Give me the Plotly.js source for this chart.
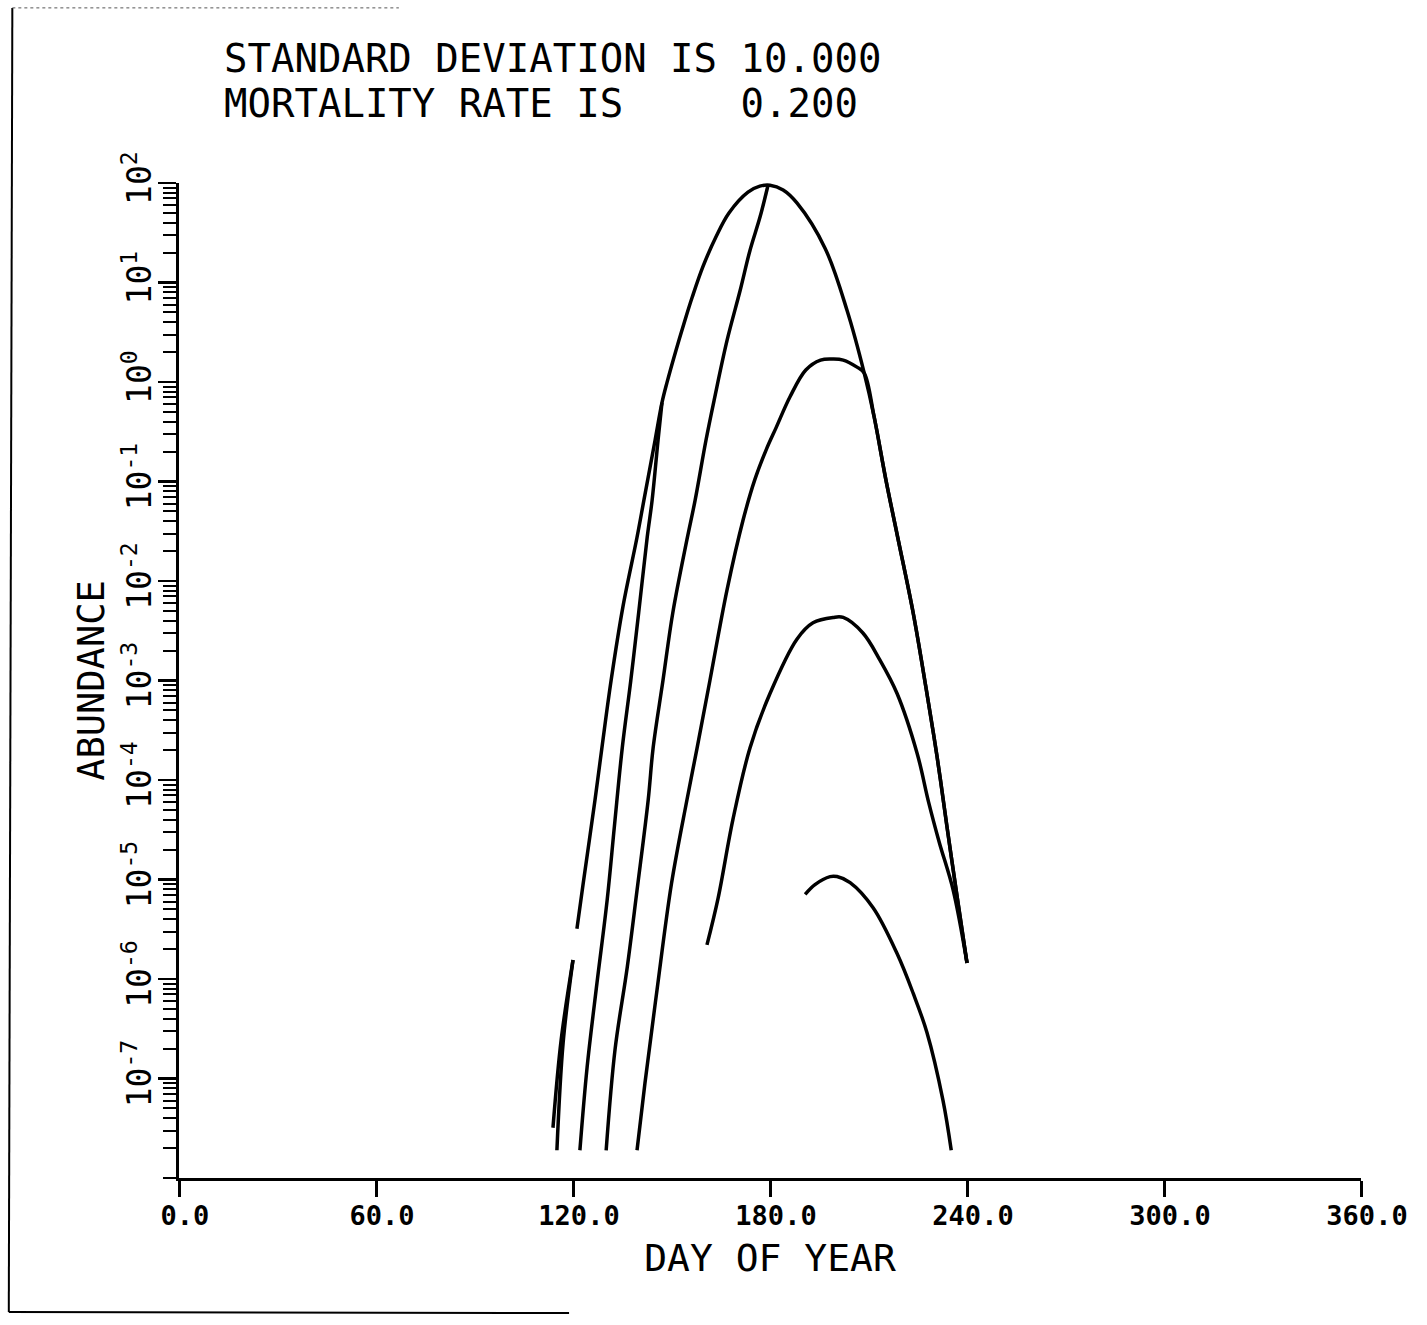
<!DOCTYPE html>
<html>
<head>
<meta charset="utf-8">
<script src="https://cdn.plot.ly/plotly-3.0.1.min.js"></script>
<style>
  html, body { margin: 0; padding: 0; background: #fff; }
  #chart { width: 1427px; height: 1325px; }
</style>
</head>
<body>
<div id="chart"></div>
<script>
// Cohort abundance curves (day of year vs abundance, log scale)

// Outer curve, peaking near day 180 (pen lift between day 120 and 121)
const dayA = [115.1, 117.0, 120.0, null, 121.2, 123.1, 126.7, 128.8, 131.6, 135.2, 139.5, 141.6, 145.0, 147.1, 148.6, 151.4, 154.4, 156.3, 159.6, 163.6, 167.5, 173.3, 176.9, 180.0, 184.0, 188.2, 196.8, 203.5, 208.7, 211.7, 215.3, 218.9, 223.6, 227.5, 230.9, 233.9, 236.7, 240.0];
const abundA = [1.9e-8, 2.3e-7, 1.55e-6, null, 3.2e-6, 9.1e-6, 6.3e-5, 2.1e-4, 1.0e-3, 5.5e-3, 2.75e-2, 6.5e-2, 0.26, 0.62, 0.98, 2.1, 4.5, 7.1, 14.5, 29, 50, 81, 93, 95, 85, 63, 22, 5.2, 1.23, 0.45, 0.104, 2.75e-2, 4.8e-3, 8.5e-4, 1.7e-4, 3.4e-5, 7.8e-6, 1.45e-6];

// Short overdrawn stroke at the start of the outer curve
const dayA2 = [113.9, 116.4, 120.0];
const abundA2 = [3.2e-8, 2.45e-7, 1.55e-6];

// Curve joining the outer curve near abundance 0.6
const dayB = [122.1, 124.3, 127.3, 130.4, 132.6, 135.0, 137.6, 140.0, 142.6, 144.1, 145.9, 147.1];
const abundB = [1.9e-8, 1.3e-7, 9.1e-7, 6.2e-6, 3.4e-5, 2.1e-4, 1.0e-3, 4.8e-3, 2.75e-2, 6.5e-2, 0.26, 0.62];

// Steep curve rising to the day-180 maximum
const dayC = [130.1, 132.8, 136.5, 139.5, 142.9, 144.4, 147.4, 150.4, 154.7, 157.2, 160.5, 163.0, 166.9, 170.9, 173.9, 177.0, 179.4];
const abundC = [1.9e-8, 1.95e-7, 1.3e-6, 7.8e-6, 6.3e-5, 2.1e-4, 1.0e-3, 4.8e-3, 2.6e-2, 6.5e-2, 0.26, 0.66, 2.6, 8.3, 21, 46, 95];

// Curve peaking near abundance 1.7 around day 200
const dayD = [139.5, 141.9, 145.6, 150.0, 154.7, 157.8, 161.7, 166.9, 171.8, 175.4, 178.8, 181.9, 186.1, 190.9, 195.4, 199.2, 202.3, 206.5, 208.7, 211.7, 215.3, 218.9, 223.6, 227.5, 230.9, 233.9, 236.7, 240.0];
const abundD = [1.9e-8, 8.9e-8, 7.8e-7, 9.1e-6, 6.3e-5, 2.1e-4, 1.0e-3, 8.1e-3, 4.1e-2, 0.105, 0.207, 0.35, 0.71, 1.32, 1.66, 1.7, 1.66, 1.41, 1.23, 0.45, 0.104, 2.75e-2, 4.8e-3, 8.5e-4, 1.7e-4, 3.4e-5, 7.8e-6, 1.45e-6];

// Curve peaking near 4e-3 around day 200
const dayE = [160.8, 164.2, 168.7, 173.9, 180.0, 188.2, 193.1, 199.2, 202.3, 208.3, 213.5, 218.7, 224.8, 228.3, 231.5, 235.8, 240.0];
const abundE = [2.2e-6, 6.5e-6, 4.0e-5, 2.1e-4, 7.4e-4, 2.6e-3, 3.8e-3, 4.3e-3, 4.3e-3, 3.0e-3, 1.6e-3, 7.4e-4, 1.86e-4, 6.0e-5, 2.4e-5, 7.8e-6, 1.45e-6];

// Small curve peaking near 1e-5 around day 200
const dayF = [190.7, 193.7, 198.3, 200.4, 204.4, 211.4, 218.7, 223.6, 227.8, 232.7, 235.2];
const abundF = [7.1e-6, 8.9e-6, 1.07e-5, 1.07e-5, 9.3e-6, 5.2e-6, 1.8e-6, 7.2e-7, 2.9e-7, 6.0e-8, 1.9e-8];

// Axis ticks
const yTickVals = [1e-7, 1e-6, 1e-5, 1e-4, 1e-3, 1e-2, 1e-1, 1e0, 1e1, 1e2];
const yTickText = ['10<sup>-7</sup>', '10<sup>-6</sup>', '10<sup>-5</sup>', '10<sup>-4</sup>', '10<sup>-3</sup>',
                   '10<sup>-2</sup>', '10<sup>-1</sup>', '10<sup>0</sup>', '10<sup>1</sup>', '10<sup>2</sup>'];
const xTickVals = [0, 60, 120, 180, 240, 300, 360];
const xTickText = ['0.0', '60.0', '120.0', '180.0', '240.0', '300.0', '360.0'];

const FONT = 'DejaVu Sans Mono, Liberation Mono, monospace';

function curve(x, y) {
  return {
    x: x, y: y, type: 'scatter', mode: 'lines',
    line: { color: '#000', width: 3.5, shape: 'spline', smoothing: 1.0 },
    connectgaps: false, hoverinfo: 'skip', showlegend: false
  };
}

const traces = [
  curve(dayA, abundA), curve(dayA2, abundA2), curve(dayB, abundB),
  curve(dayC, abundC), curve(dayD, abundD), curve(dayE, abundE), curve(dayF, abundF)
];

const layout = {
  width: 1427, height: 1325,
  margin: { l: 179, r: 66, t: 183, b: 147 },
  paper_bgcolor: '#fff', plot_bgcolor: '#fff',
  font: { family: FONT, color: '#000' },
  showlegend: false,
  xaxis: {
    range: [0, 360], showgrid: false, zeroline: false,
    showline: true, linecolor: '#000', linewidth: 3,
    ticks: 'outside', ticklen: 16, tickwidth: 3, tickcolor: '#000',
    tickmode: 'array', tickvals: xTickVals, ticktext: xTickText,
    tickfont: { family: FONT, size: 27, weight: 'bold' },
    ticklabelshift: 6, ticklabelstandoff: -4,
    title: { text: 'DAY OF YEAR', font: { family: FONT, size: 38 }, standoff: 14 }
  },
  yaxis: {
    type: 'log', range: [-8, 2], showgrid: false, zeroline: false,
    showline: true, linecolor: '#000', linewidth: 3,
    ticks: 'outside', ticklen: 18, tickwidth: 2.5, tickcolor: '#000',
    tickmode: 'array', tickvals: yTickVals, ticktext: yTickText,
    tickangle: -90, ticklabelstandoff: -6,
    tickfont: { family: FONT, size: 33 },
    minor: { ticks: 'outside', ticklen: 13, tickwidth: 2, tickcolor: '#000', dtick: 'D1', showgrid: false },
    title: { text: 'ABUNDANCE', font: { family: FONT, size: 37 }, standoff: 0 }
  },
  annotations: [
    { xref: 'paper', yref: 'paper', x: 0.0364, y: 1.1256, xanchor: 'left', yanchor: 'middle',
      text: 'STANDARD DEVIATION IS 10.000', showarrow: false, font: { family: FONT, size: 39 } },
    { xref: 'paper', yref: 'paper', x: 0.0364, y: 1.0804, xanchor: 'left', yanchor: 'middle',
      text: 'MORTALITY RATE IS\u00a0\u00a0\u00a0\u00a0\u00a00.200', showarrow: false, font: { family: FONT, size: 39 } }
  ],
  shapes: [
    // sheet edges
    { type: 'line', xref: 'paper', yref: 'paper', x0: -0.141, y0: 1.176, x1: -0.144, y1: -0.1347,
      line: { color: '#000', width: 2 } },
    { type: 'line', xref: 'paper', yref: 'paper', x0: -0.144, y0: -0.1347, x1: 0.33, y1: -0.1357,
      line: { color: '#000', width: 2 } },
    { type: 'line', xref: 'paper', yref: 'paper', x0: -0.141, y0: 1.176, x1: 0.186, y1: 1.176,
      line: { color: '#555', width: 1, dash: 'dot' } }
  ]
};

Plotly.newPlot('chart', traces, layout, { displayModeBar: false, staticPlot: true });
</script>
</body>
</html>
